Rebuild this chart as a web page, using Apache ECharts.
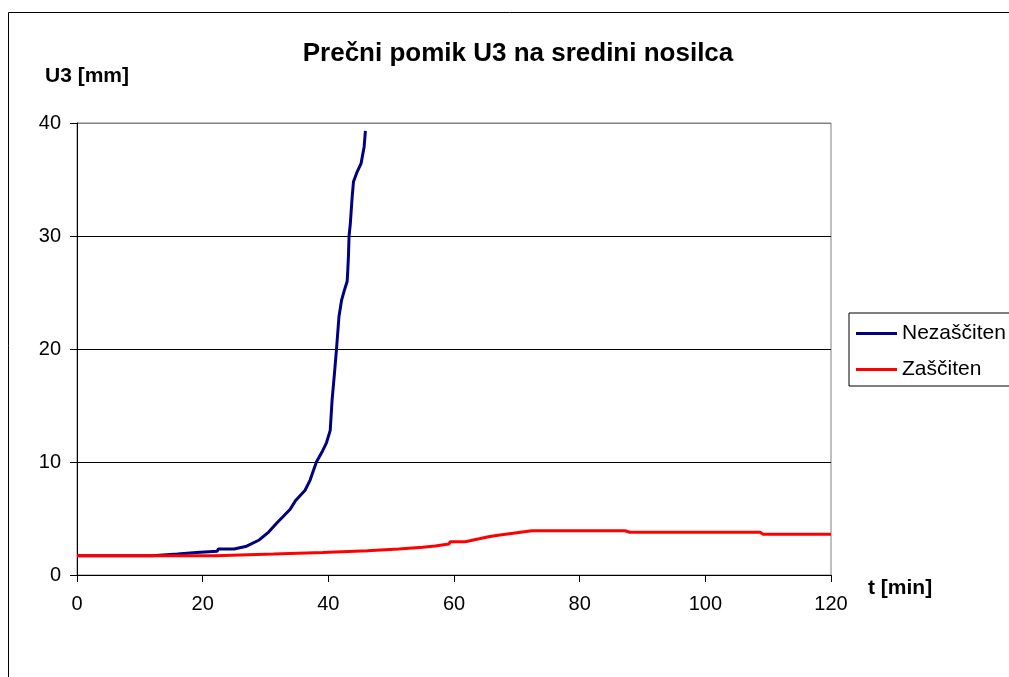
<!DOCTYPE html>
<html>
<head>
<meta charset="utf-8">
<script src="https://cdn.jsdelivr.net/npm/echarts@6/dist/echarts.min.js"></script>
<style>html,body{margin:0;padding:0;background:#fff}#c{width:1009px;height:677px}</style>
</head>
<body>
<div id="c"></div>
<script>
const titleText = 'Prečni pomik U3 na sredini nosilca';
const yName = 'U3 [mm]';
const xName = 't [min]';
const seriesNames = ['Nezaščiten', 'Zaščiten'];
const xTicks = [0, 20, 40, 60, 80, 100, 120];
const yTicks = [0, 10, 20, 30, 40];

const nezasciten = [
  [0,1.7],[12,1.7],[12.2,1.86],[16,1.86],[16.2,2.0],[19,2.0],[19.2,2.1],[22.3,2.1],[22.5,2.3],[25,2.3],
  [27,2.55],[29,3.1],[30.5,3.8],[31.8,4.6],[33.9,5.8],[34.8,6.6],[36.3,7.5],[37.1,8.4],[38.1,10.0],
  [39.1,11.0],[39.7,11.7],[40.3,12.8],[40.6,15.5],[41.0,18],[41.3,20],[41.7,22.9],[42.1,24.3],
  [42.5,25.1],[43.0,26.0],[43.1,27],[43.2,28.2],[43.3,30],[43.5,31.1],[43.8,33.5],[44.0,34.8],
  [44.6,35.7],[45.2,36.4],[45.7,37.9],[45.9,39.3]
];
const zasciten = [
  [0,1.7],[22,1.7],[22.2,1.86],[31.3,1.86],[31.5,2.0],[39.1,2.0],[39.3,2.15],[46.2,2.15],[46.4,2.3],
  [51.2,2.3],[51.4,2.45],[55,2.45],[55.2,2.57],[57,2.57],[57.2,2.74],[59.2,2.74],[59.4,2.95],[61.8,2.95],
  [62.0,3.1],[64,3.2],[65.7,3.4],[67.3,3.54],[69.4,3.69],[72.4,3.92],[87.2,3.92],[88,3.78],
  [108.7,3.78],[109.2,3.6],[120,3.6]
];

const FONT = '"Liberation Sans", Arial, sans-serif';
const chart = echarts.init(document.getElementById('c'), null, {renderer: 'canvas'});
chart.setOption({
  animation: false,
  backgroundColor: '#fff',
  grid: {left: 77, right: 178, top: 123, bottom: 102, show: true, borderColor: '#808080', borderWidth: 1, backgroundColor: 'transparent'},
  xAxis: {
    type: 'value', min: xTicks[0], max: xTicks[xTicks.length-1], interval: 20,
    axisLine: {show: true, onZero: false, lineStyle: {color: '#000', width: 1}},
    axisTick: {show: true, inside: false, length: 7, lineStyle: {color: '#000'}},
    axisLabel: {color: '#000', fontSize: 20, fontFamily: FONT, margin: 19},
    splitLine: {show: false}
  },
  yAxis: {
    type: 'value', min: yTicks[0], max: yTicks[yTicks.length-1], interval: 10,
    axisLine: {show: true, onZero: false, lineStyle: {color: '#000', width: 1}},
    axisTick: {show: true, inside: false, length: 7, lineStyle: {color: '#000'}},
    axisLabel: {color: '#000', fontSize: 20, fontFamily: FONT, margin: 16},
    splitLine: {show: true, lineStyle: {color: ['#000', '#000', '#000', '#000', '#808080'], width: 1}}
  },
  legend: {
    orient: 'vertical', left: 849, top: 313,
    data: seriesNames,
    icon: 'rect', itemWidth: 41, itemHeight: 3, itemGap: 15,
    padding: [10, 40, 6, 7],
    borderColor: '#000', borderWidth: 1, backgroundColor: '#fff',
    textStyle: {color: '#000', fontSize: 21, fontFamily: FONT, lineHeight: 20}
  },
  graphic: [
    {type: 'rect', silent: true, z: -10, shape: {x: 8.5, y: 12.5, width: 1200, height: 900}, style: {fill: 'none', stroke: '#000', lineWidth: 1}},
    {type: 'text', x: 518, y: 54, style: {text: titleText, fill: '#000', font: 'bold 26px ' + FONT, textAlign: 'center', textVerticalAlign: 'middle'}},
    {type: 'text', x: 45, y: 76, style: {text: yName, fill: '#000', font: 'bold 21px ' + FONT, textAlign: 'left', textVerticalAlign: 'middle'}},
    {type: 'text', x: 868, y: 588, style: {text: xName, fill: '#000', font: 'bold 21px ' + FONT, textAlign: 'left', textVerticalAlign: 'middle'}}
  ],
  series: [
    {name: seriesNames[0], type: 'line', data: nezasciten, showSymbol: false, symbol: 'none', color: '#000080', lineStyle: {color: '#000080', width: 3}, z: 3},
    {name: seriesNames[1], type: 'line', data: zasciten, showSymbol: false, symbol: 'none', color: '#ff0000', lineStyle: {color: '#ff0000', width: 3}, z: 4}
  ]
});
</script>
</body>
</html>
